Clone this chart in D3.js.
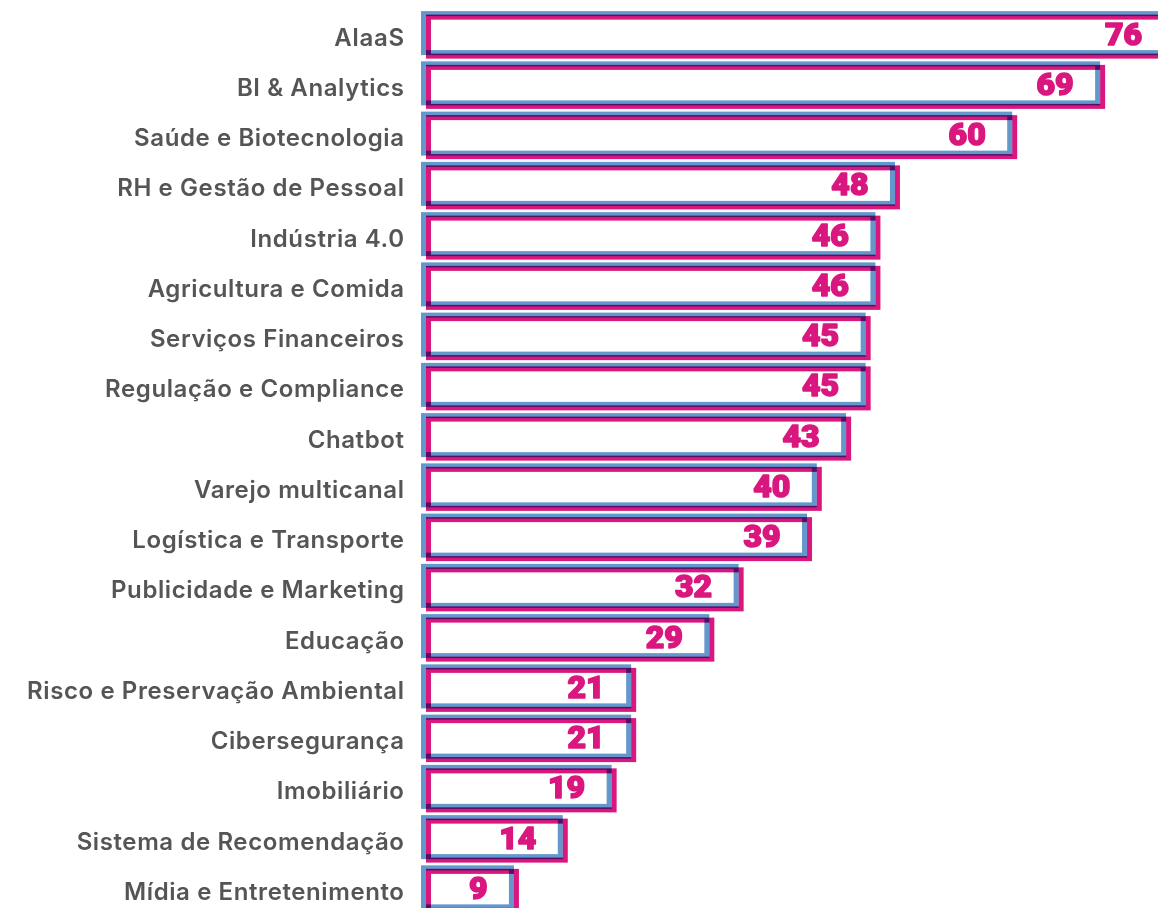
<!DOCTYPE html>
<html>
<head>
<meta charset="utf-8">
<script src="https://cdn.jsdelivr.net/npm/d3@7"></script>
<style>
  body { margin: 0; background: #fff; }
  .bar { mix-blend-mode: multiply; }
</style>
</head>
<body>
<script>
"use strict";
(function(){
  // categories and values, top to bottom
  const categories = ["AIaaS", "BI & Analytics", "Saúde e Biotecnologia", "RH e Gestão de Pessoal",
    "Indústria 4.0", "Agricultura e Comida", "Serviços Financeiros", "Regulação e Compliance",
    "Chatbot", "Varejo multicanal", "Logística e Transporte", "Publicidade e Marketing",
    "Educação", "Risco e Preservação Ambiental", "Cibersegurança", "Imobiliário",
    "Sistema de Recomendação", "Mídia e Entretenimento"];
  const values = [76, 69, 60, 48, 46, 46, 45, 45, 43, 40, 39, 32, 29, 21, 21, 19, 14, 9];

  const data = categories.map((c, i) => ({ name: c, value: values[i] }));

  const width = 1158, height = 908;
  const blue = "#6497cc", pink = "#d9177f";

  const svg = d3.select("body").append("svg")
      .attr("width", width)
      .attr("height", height);

  // x: value -> pixel
  const scaleX = d3.scaleLinear()
      .domain([0, 80])
      .range([423.5, 423.5 + 80 * 9.77]);

  // y: one row per category
  const scaleY = d3.scaleBand()
      .domain(categories)
      .range([8, 8 + categories.length * 50.25])
      .padding(0);

  const barH = 39, stroke = 5;
  const mid = d => scaleY(d.name) + scaleY.bandwidth() / 2;

  // blue outline
  svg.selectAll(".blue")
      .data(data)
      .enter()
      .append("rect")
        .attr("class", "bar blue")
        .attr("x", scaleX(0))
        .attr("y", d => mid(d) - barH / 2)
        .attr("width", d => scaleX(d.value) - scaleX(0))
        .attr("height", barH)
        .attr("fill", "none")
        .attr("stroke", blue)
        .attr("stroke-width", stroke);

  // pink outline, shifted a little
  svg.selectAll(".pink")
      .data(data)
      .enter()
      .append("rect")
        .attr("class", "bar pink")
        .attr("x", scaleX(0) + 5)
        .attr("y", d => mid(d) - barH / 2 + 3.5)
        .attr("width", d => scaleX(d.value) - scaleX(0))
        .attr("height", barH)
        .attr("fill", "none")
        .attr("stroke", pink)
        .attr("stroke-width", stroke);

  // category labels
  svg.selectAll(".label")
      .data(data)
      .enter()
      .append("text")
        .attr("x", 404.6)
        .attr("y", d => mid(d) + 6)
        .attr("text-anchor", "end")
        .attr("dominant-baseline", "middle")
        .attr("fill", "#555")
        .style("font-family", "Inter, 'Noto Sans', sans-serif")
        .style("font-weight", 600)
        .style("font-size", "24px")
        .style("letter-spacing", "0.6px")
        .text(d => d.name);

  // value labels
  svg.selectAll(".value")
      .data(data)
      .enter()
      .append("text")
        .attr("x", d => scaleX(d.value) - 24)
        .attr("y", d => mid(d) + 3)
        .attr("text-anchor", "end")
        .attr("dominant-baseline", "middle")
        .attr("fill", pink)
        .attr("stroke", pink)
        .attr("stroke-width", 1.6)
        .attr("stroke-linejoin", "round")
        .style("font-family", "Roboto, 'Open Sans', sans-serif")
        .style("font-weight", 900)
        .style("font-size", "32px")
        .text(d => d.value);
})()
</script>
</body>
</html>
